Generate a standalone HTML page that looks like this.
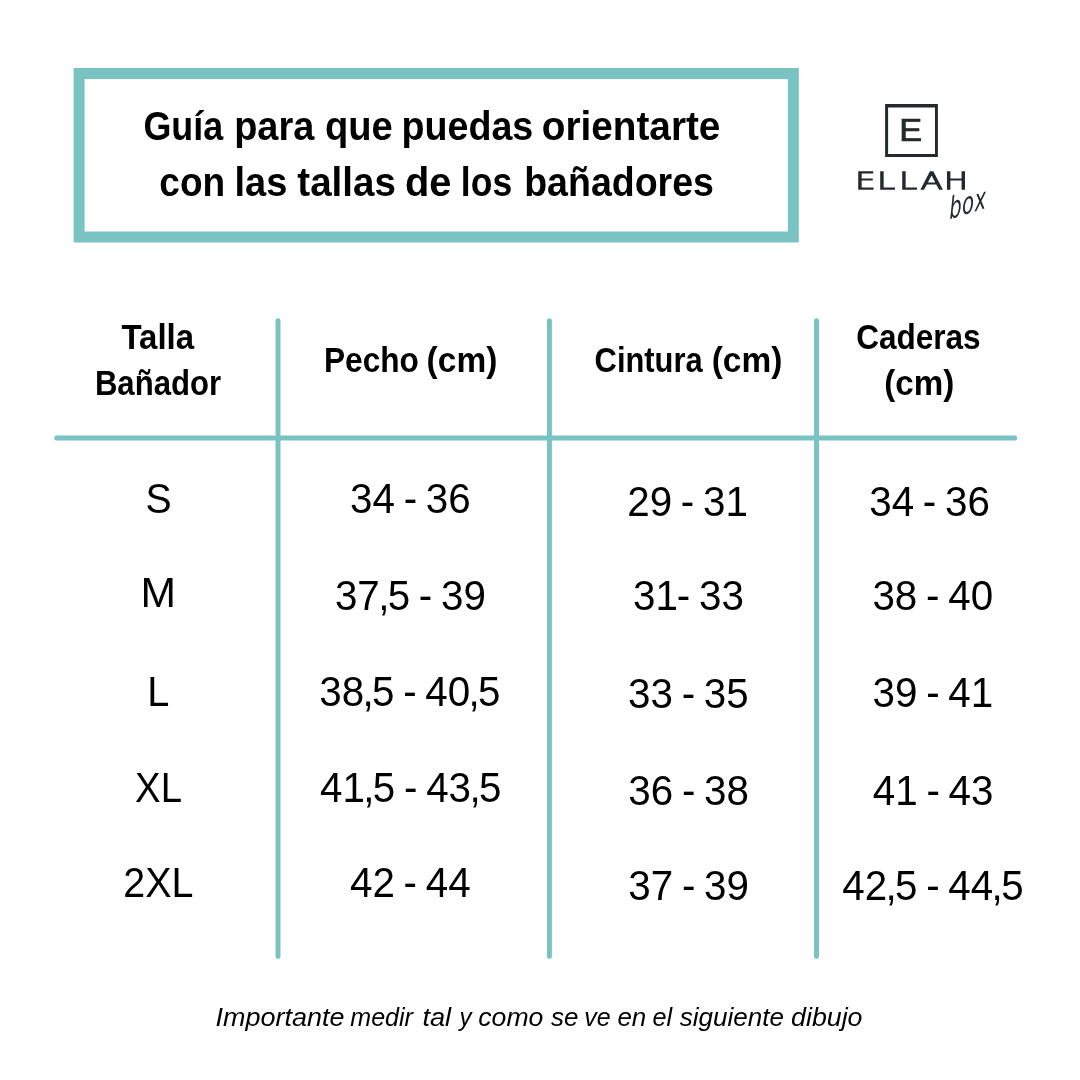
<!DOCTYPE html>
<html lang="es">
<head>
<meta charset="utf-8">
<title>Guía de tallas de bañadores</title>
<style>
html,body{margin:0;padding:0;background:#fff;}
body{width:1080px;height:1080px;overflow:hidden;}
svg{display:block;}
text{font-family:"Liberation Sans",sans-serif;fill:#000;}
.logo text{fill:#24292d;}
</style>
</head>
<body>
<svg width="1080" height="1080" viewBox="0 0 1080 1080">
<rect x="0" y="0" width="1080" height="1080" fill="#ffffff"/>
<rect x="79.1" y="73.5" width="714.2" height="163.5" fill="none" stroke="#7ac3c3" stroke-width="11"/>
<rect x="275.5" y="318.3" width="5" height="640.6" rx="2.4" fill="#7ac3c3"/>
<rect x="546.9" y="318.3" width="5" height="640.6" rx="2.4" fill="#7ac3c3"/>
<rect x="814.0" y="318.3" width="5" height="640.6" rx="2.4" fill="#7ac3c3"/>
<rect x="54.4" y="435.55" width="962.7" height="5" rx="2" fill="#7ac3c3"/>
<g class="logo">
<path fill-rule="evenodd" fill="#24292d" d="M885.1 104.1H937.9V157H885.1Z M888.1 107.6V154H935V107.6Z"/>
<text x="899.33" y="140.85" font-size="30.52" textLength="22.89" lengthAdjust="spacingAndGlyphs" stroke="#24292d" stroke-width="0.7">E</text>
<text transform="scale(1.44,1)" x="593.91 609.26 624.47 639.42 655.56" y="189.20" font-size="22.22" font-weight="200" style="font-family:'DejaVu Sans',sans-serif" stroke="#24292d" stroke-width="1.6" stroke-linejoin="miter" vector-effect="non-scaling-stroke">ELLAH</text>
<text x="0" y="0" font-size="26" font-weight="200" font-style="italic" letter-spacing="0.6" style="font-family:'DejaVu Sans',sans-serif" transform="translate(949.6,219.2) rotate(-17) skewX(-16) scale(0.78,1.12)">box</text>
</g>
<text font-size="41.0" font-weight="bold"><tspan x="143.51" y="140.0" textLength="79.64" lengthAdjust="spacingAndGlyphs">Guía</tspan> <tspan x="234.17" y="140.0" textLength="80.06" lengthAdjust="spacingAndGlyphs">para</tspan> <tspan x="325.08" y="140.0" textLength="67.75" lengthAdjust="spacingAndGlyphs">que</tspan> <tspan x="401.49" y="140.0" textLength="131.81" lengthAdjust="spacingAndGlyphs">puedas</tspan> <tspan x="541.76" y="140.0" textLength="178.66" lengthAdjust="spacingAndGlyphs">orientarte</tspan></text>
<text font-size="41.0" font-weight="bold"><tspan x="159.33" y="196.0" textLength="65.87" lengthAdjust="spacingAndGlyphs">con</tspan> <tspan x="234.55" y="196.0" textLength="52.80" lengthAdjust="spacingAndGlyphs">las</tspan> <tspan x="297.32" y="196.0" textLength="98.54" lengthAdjust="spacingAndGlyphs">tallas</tspan> <tspan x="405.01" y="196.0" textLength="46.44" lengthAdjust="spacingAndGlyphs">de</tspan> <tspan x="460.82" y="196.0" textLength="51.34" lengthAdjust="spacingAndGlyphs">los</tspan> <tspan x="524.20" y="196.0" textLength="189.73" lengthAdjust="spacingAndGlyphs">bañadores</tspan></text>
<text font-size="35.0" font-weight="bold"><tspan x="121.42" y="349.0" textLength="72.74" lengthAdjust="spacingAndGlyphs">Talla</tspan> <tspan x="94.90" y="394.7" textLength="126.16" lengthAdjust="spacingAndGlyphs">Bañador</tspan></text>
<text font-size="35.0" font-weight="bold"><tspan x="323.97" y="372.3" textLength="94.95" lengthAdjust="spacingAndGlyphs">Pecho</tspan> <tspan x="426.61" y="372.3" textLength="70.69" lengthAdjust="spacingAndGlyphs">(cm)</tspan></text>
<text font-size="35.0" font-weight="bold"><tspan x="594.60" y="372.3" textLength="108.05" lengthAdjust="spacingAndGlyphs">Cintura</tspan> <tspan x="711.71" y="372.3" textLength="70.58" lengthAdjust="spacingAndGlyphs">(cm)</tspan></text>
<text font-size="35.0" font-weight="bold"><tspan x="856.17" y="348.8" textLength="124.34" lengthAdjust="spacingAndGlyphs">Caderas</tspan> <tspan x="884.13" y="394.7" textLength="70.06" lengthAdjust="spacingAndGlyphs">(cm)</tspan></text>
<text font-size="41.8"><tspan x="145.53" y="513.3" textLength="26.13" lengthAdjust="spacingAndGlyphs">S</tspan></text>
<text font-size="41.8"><tspan x="140.40" y="606.8" textLength="35.51" lengthAdjust="spacingAndGlyphs">M</tspan></text>
<text font-size="41.8"><tspan x="147.33" y="706.3" textLength="22.11" lengthAdjust="spacingAndGlyphs">L</tspan></text>
<text font-size="41.8"><tspan x="135.10" y="802.0" textLength="46.88" lengthAdjust="spacingAndGlyphs">XL</tspan></text>
<text font-size="41.8"><tspan x="123.29" y="897.0" textLength="70.16" lengthAdjust="spacingAndGlyphs">2XL</tspan></text>
<text transform="translate(350.12,512.5) scale(0.9661,1)" x="0.00 23.25 45.82 55.50 67.49 78.42 101.67" y="0" font-size="41.8">34 - 36</text>
<text transform="translate(334.92,610.4) scale(0.9661,1)" x="0.00 23.25 44.76 54.63 77.19 86.88 98.87 109.80 133.05" y="0" font-size="41.8">37,5 - 39</text>
<text transform="translate(319.22,705.6) scale(0.9661,1)" x="0.00 23.25 44.76 54.63 77.19 86.88 98.87 109.80 133.05 154.55 164.42" y="0" font-size="41.8">38,5 - 40,5</text>
<text transform="translate(320.08,801.7) scale(0.9661,1)" x="0.00 23.25 44.76 54.63 77.19 86.88 98.87 109.80 133.05 154.55 164.42" y="0" font-size="41.8">41,5 - 43,5</text>
<text transform="translate(349.98,897.3) scale(0.9661,1)" x="0.00 23.25 45.82 55.50 67.49 78.42 101.67" y="0" font-size="41.8">42 - 44</text>
<text transform="translate(627.24,515.9) scale(0.9661,1)" x="0.00 23.25 45.82 55.50 67.49 78.42 101.67" y="0" font-size="41.8">29 - 31</text>
<text transform="translate(633.12,610.1) scale(0.9661,1)" x="0.00 23.25 45.25 57.24 68.17 91.42" y="0" font-size="41.8">31- 33</text>
<text transform="translate(628.12,707.5) scale(0.9661,1)" x="0.00 23.25 45.82 55.50 67.49 78.42 101.67" y="0" font-size="41.8">33 - 35</text>
<text transform="translate(628.32,805.3) scale(0.9661,1)" x="0.00 23.25 45.82 55.50 67.49 78.42 101.67" y="0" font-size="41.8">36 - 38</text>
<text transform="translate(628.32,900.2) scale(0.9661,1)" x="0.00 23.25 45.82 55.50 67.49 78.42 101.67" y="0" font-size="41.8">37 - 39</text>
<text transform="translate(869.22,515.9) scale(0.9661,1)" x="0.00 23.25 45.82 55.50 67.49 78.42 101.67" y="0" font-size="41.8">34 - 36</text>
<text transform="translate(872.42,609.8) scale(0.9661,1)" x="0.00 23.25 45.82 55.50 67.49 78.42 101.67" y="0" font-size="41.8">38 - 40</text>
<text transform="translate(872.62,707.4) scale(0.9661,1)" x="0.00 23.25 45.82 55.50 67.49 78.42 101.67" y="0" font-size="41.8">39 - 41</text>
<text transform="translate(872.78,805.0) scale(0.9661,1)" x="0.00 23.25 45.82 55.50 67.49 78.42 101.67" y="0" font-size="41.8">41 - 43</text>
<text transform="translate(842.28,899.9) scale(0.9661,1)" x="0.00 23.25 44.76 54.63 77.19 86.88 98.87 109.80 133.05 154.55 164.42" y="0" font-size="41.8">42,5 - 44,5</text>
<text font-size="26.6" font-style="italic"><tspan x="215.51" y="1025.8" textLength="128.93" lengthAdjust="spacingAndGlyphs">Importante</tspan> <tspan x="350.29" y="1025.8" textLength="62.68" lengthAdjust="spacingAndGlyphs">medir</tspan> <tspan x="422.42" y="1025.8" textLength="28.72" lengthAdjust="spacingAndGlyphs">tal</tspan> <tspan x="459.51" y="1025.8" textLength="12.05" lengthAdjust="spacingAndGlyphs">y</tspan> <tspan x="478.28" y="1025.8" textLength="65.09" lengthAdjust="spacingAndGlyphs">como</tspan> <tspan x="550.94" y="1025.8" textLength="27.41" lengthAdjust="spacingAndGlyphs">se</tspan> <tspan x="584.34" y="1025.8" textLength="26.47" lengthAdjust="spacingAndGlyphs">ve</tspan> <tspan x="617.39" y="1025.8" textLength="28.89" lengthAdjust="spacingAndGlyphs">en</tspan> <tspan x="652.41" y="1025.8" textLength="19.66" lengthAdjust="spacingAndGlyphs">el</tspan> <tspan x="679.64" y="1025.8" textLength="104.30" lengthAdjust="spacingAndGlyphs">siguiente</tspan> <tspan x="791.07" y="1025.8" textLength="71.45" lengthAdjust="spacingAndGlyphs">dibujo</tspan></text>
</svg>
</body>
</html>
